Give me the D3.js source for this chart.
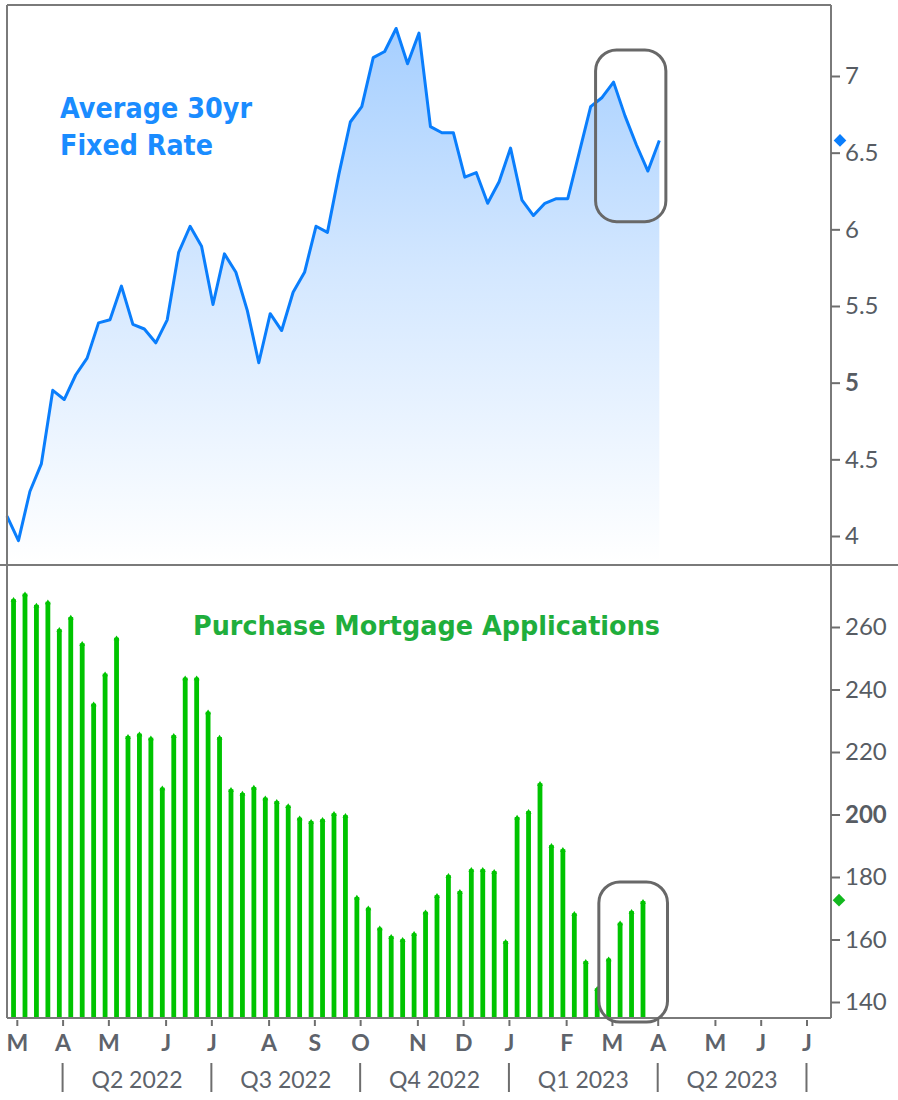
<!DOCTYPE html>
<html><head><meta charset="utf-8">
<script src="https://cdn.jsdelivr.net/npm/d3@7"></script>
<style>
html,body{margin:0;padding:0;background:#fff;}
svg{display:block;}
</style></head><body>
<svg id="chart" width="898" height="1100"></svg>
<script>
// ---- data (weekly) ----
const rateStart = [2022, 1, 28];          // first weekly rate point (Mon 28 Feb 2022)
const rateValues = [
  4.13, 3.97, 4.29, 4.47, 4.95, 4.89, 5.05, 5.16, 5.39, 5.41,
  5.63, 5.38, 5.35, 5.26, 5.41, 5.85, 6.02, 5.89, 5.51, 5.84,
  5.72, 5.47, 5.13, 5.45, 5.34, 5.59, 5.72, 6.02, 5.98, 6.36,
  6.70, 6.80, 7.12, 7.16, 7.31, 7.08, 7.28, 6.67, 6.63, 6.63,
  6.34, 6.37, 6.17, 6.31, 6.53, 6.19, 6.09, 6.17, 6.20, 6.20,
  6.50, 6.80, 6.86, 6.96, 6.74, 6.55, 6.38, 6.58
];
const appStart = [2022, 2, 4];            // first weekly application point (Fri 4 Mar 2022)
const appValues = [
  269.2, 271.0, 267.4, 268.4, 259.6, 263.5, 255.1, 235.8, 245.4, 256.9,
  225.4, 226.2, 224.9, 208.9, 225.7, 244.1, 244.1, 233.2, 225.1, 208.4,
  207.2, 209.1, 205.7, 204.6, 203.2, 199.3, 198.2, 198.8, 200.7, 200.1,
  173.9, 170.5, 164.1, 161.4, 160.4, 162.3, 169.2, 174.5, 180.9, 175.8,
  182.8, 182.8, 182.2, 159.8, 199.5, 201.4, 210.3, 190.5, 189.2, 168.7,
  153.4, 144.7, 154.2, 165.7, 169.4, 172.6
];
const rateTicks = [4, 4.5, 5, 5.5, 6, 6.5, 7];
const appTicks = [140, 160, 180, 200, 220, 240, 260];
const boldTicks = [5, 200];
const monthLetters = ["J","F","M","A","M","J","J","A","S","O","N","D"];
const quarterLabels = ["Q2 2022", "Q3 2022", "Q4 2022", "Q1 2023", "Q2 2023"];
const titleRate = ["Average 30yr", "Fixed Rate"];
const titleApps = "Purchase Mortgage Applications";
// highlight boxes in data units: [startDate, endDate, top value, bottom value]
const rateBox = [[2023, 1, 23], [2023, 3, 7], 7.17, 6.05];
const appBox  = [[2023, 1, 25], [2023, 3, 8], 178.4, 133.6];

// ---- layout ----
const svg = d3.select("#chart");
const L = 7, R = 831, T = 5, MID = 565, B = 1018;
const toDate = a => new Date(a[0], a[1], a[2]);

const rateDates = rateValues.map((v, i) => d3.timeDay.offset(toDate(rateStart), 7 * i));
const appDates = appValues.map((v, i) => d3.timeDay.offset(toDate(appStart), 7 * i));

const x = d3.scaleTime().domain([new Date(2022, 1, 28), new Date(2023, 6, 17)]).range([L, R]);
const yRate = d3.scaleLinear().domain([4, 7]).range([536, 76]);
const yApp = d3.scaleLinear().domain([140, 260]).range([1002, 627]);

const months = d3.timeMonth.range(new Date(2022, 2, 1), new Date(2023, 7, 1));
const monthTicks = months.map(m => d3.timeSunday.ceil(m));
const quarterTicks = monthTicks.filter(d => d3.timeMonth.floor(d).getMonth() % 3 === 0);

// gradient
const defs = svg.append("defs");
const grad = defs.append("linearGradient").attr("id", "rateGrad")
  .attr("gradientUnits", "userSpaceOnUse").attr("x1", 0).attr("x2", 0)
  .attr("y1", yRate(7.31)).attr("y2", MID - 2);
grad.append("stop").attr("offset", 0).attr("stop-color", "#a6cfff");
grad.append("stop").attr("offset", 0.45).attr("stop-color", "#d3e7ff");
grad.append("stop").attr("offset", 1).attr("stop-color", "#ffffff");

// ---- top panel: area + line ----
const area = d3.area().x((d, i) => x(rateDates[i])).y0(MID - 2).y1(d => yRate(d));
svg.append("path").datum(rateValues).attr("d", area).attr("fill", "url(#rateGrad)");
const line = d3.line().x((d, i) => x(rateDates[i])).y(d => yRate(d));
svg.append("path").datum(rateValues).attr("d", line)
  .attr("fill", "none").attr("stroke", "#0a7efc").attr("stroke-width", 3)
  .attr("stroke-linejoin", "round");

// ---- bottom panel: bars ----
const barG = svg.append("g").attr("fill", "#00c400");
barG.selectAll("rect").data(appValues).join("rect")
  .attr("x", (d, i) => x(appDates[i]) - 2.4)
  .attr("width", 4.8)
  .attr("y", d => yApp(d) + 1)
  .attr("height", d => B - yApp(d) - 1);
barG.selectAll("path").data(appValues).join("path")
  .attr("d", (d, i) => {
    const cx = x(appDates[i]), cy = yApp(d);
    return `M${cx - 3},${cy + 3.5}L${cx},${cy - 1.2}L${cx + 3},${cy + 3.5}Z`;
  });

// ---- frame ----
const frame = svg.append("g").attr("stroke", "#7a7a7a").attr("stroke-width", 2).attr("fill", "none");
frame.append("line").attr("x1", L).attr("x2", R).attr("y1", T).attr("y2", T);
frame.append("line").attr("x1", L).attr("x2", L).attr("y1", T).attr("y2", B);
frame.append("line").attr("x1", R).attr("x2", R).attr("y1", T).attr("y2", B);
frame.append("line").attr("x1", 0).attr("x2", 898).attr("y1", MID).attr("y2", MID);
frame.append("line").attr("x1", L).attr("x2", R).attr("y1", B).attr("y2", B);

// ---- right axes ----
function styleAxis(g) {
  g.select(".domain").remove();
  g.selectAll(".tick line").attr("stroke", "#6e6e6e").attr("stroke-width", 2);
  g.selectAll(".tick text")
    .attr("fill", "#575c63")
    .style("font-family", "Lato, 'Open Sans', sans-serif")
    .style("font-size", "24px")
    .style("font-weight", d => boldTicks.includes(d) ? "bold" : "normal");
}
svg.append("g").attr("transform", `translate(${R},0)`)
  .call(d3.axisRight(yRate).tickValues(rateTicks).tickSize(9).tickPadding(5).tickFormat(d => String(d)))
  .call(styleAxis);
svg.append("g").attr("transform", `translate(${R},0)`)
  .call(d3.axisRight(yApp).tickValues(appTicks).tickSize(9).tickPadding(5).tickFormat(d => String(d)))
  .call(styleAxis);

// last-value markers
const diamond = d3.symbol(d3.symbolSquare, 80);
svg.append("path").attr("d", diamond())
  .attr("transform", `translate(${R + 9},${yRate(rateValues[rateValues.length - 1])}) rotate(45)`)
  .attr("fill", "#0a7efc");
svg.append("path").attr("d", diamond())
  .attr("transform", `translate(${R + 8},${yApp(appValues[appValues.length - 1])}) rotate(45)`)
  .attr("fill", "#12b81e");

// ---- bottom axis: months ----
const xAxis = svg.append("g").attr("transform", `translate(0,${B})`)
  .call(d3.axisBottom(x).tickValues(monthTicks).tickSize(8).tickPadding(8)
    .tickFormat(d => monthLetters[d3.timeMonth.floor(d).getMonth()]));
xAxis.select(".domain").remove();
xAxis.selectAll(".tick line").attr("stroke", "#6e6e6e").attr("stroke-width", 2).attr("y1", 2);
xAxis.selectAll(".tick text")
  .attr("fill", "#5e636b")
  .attr("dy", "0.72em")
  .style("font-family", "Lato, 'Open Sans', sans-serif")
  .style("font-size", "23px")
  .style("font-weight", "bold");

// quarter separators + labels
const qG = svg.append("g");
qG.selectAll("line").data(quarterTicks).join("line")
  .attr("x1", d => x(d)).attr("x2", d => x(d))
  .attr("y1", 1063).attr("y2", 1092)
  .attr("stroke", "#6e6e6e").attr("stroke-width", 2);
qG.selectAll("text").data(quarterLabels).join("text")
  .attr("x", (d, i) => (x(quarterTicks[i]) + x(quarterTicks[i + 1])) / 2)
  .attr("y", 1088)
  .attr("text-anchor", "middle")
  .attr("fill", "#5e636b")
  .style("font-family", "Lato, 'Open Sans', sans-serif")
  .style("font-size", "23px")
  .text(d => d);

// ---- highlight boxes ----
function box(b, yS) {
  const x0 = x(toDate(b[0])), x1 = x(toDate(b[1]));
  const y0 = yS(b[2]), y1 = yS(b[3]);
  svg.append("rect").attr("x", x0).attr("y", y0)
    .attr("width", x1 - x0).attr("height", y1 - y0)
    .attr("rx", 21).attr("ry", 21)
    .attr("fill", "none").attr("stroke", "#686868").attr("stroke-width", 3);
}
box(rateBox, yRate);
box(appBox, yApp);

// ---- titles ----
const tf = "Tahoma, 'DejaVu Sans', sans-serif";
svg.append("text").attr("x", 60).attr("y", 118).attr("fill", "#1a8cff")
  .attr("textLength", 192).attr("lengthAdjust", "spacingAndGlyphs")
  .style("font-family", tf).style("font-weight", "bold").style("font-size", "28px")
  .text(titleRate[0]);
svg.append("text").attr("x", 60).attr("y", 155).attr("fill", "#1a8cff")
  .attr("textLength", 153).attr("lengthAdjust", "spacingAndGlyphs")
  .style("font-family", tf).style("font-weight", "bold").style("font-size", "28px")
  .text(titleRate[1]);
svg.append("text").attr("x", 193).attr("y", 635).attr("fill", "#1fae3c")
  .attr("textLength", 467).attr("lengthAdjust", "spacingAndGlyphs")
  .style("font-family", tf).style("font-weight", "bold").style("font-size", "27px")
  .text(titleApps);
</script>
</body></html>
